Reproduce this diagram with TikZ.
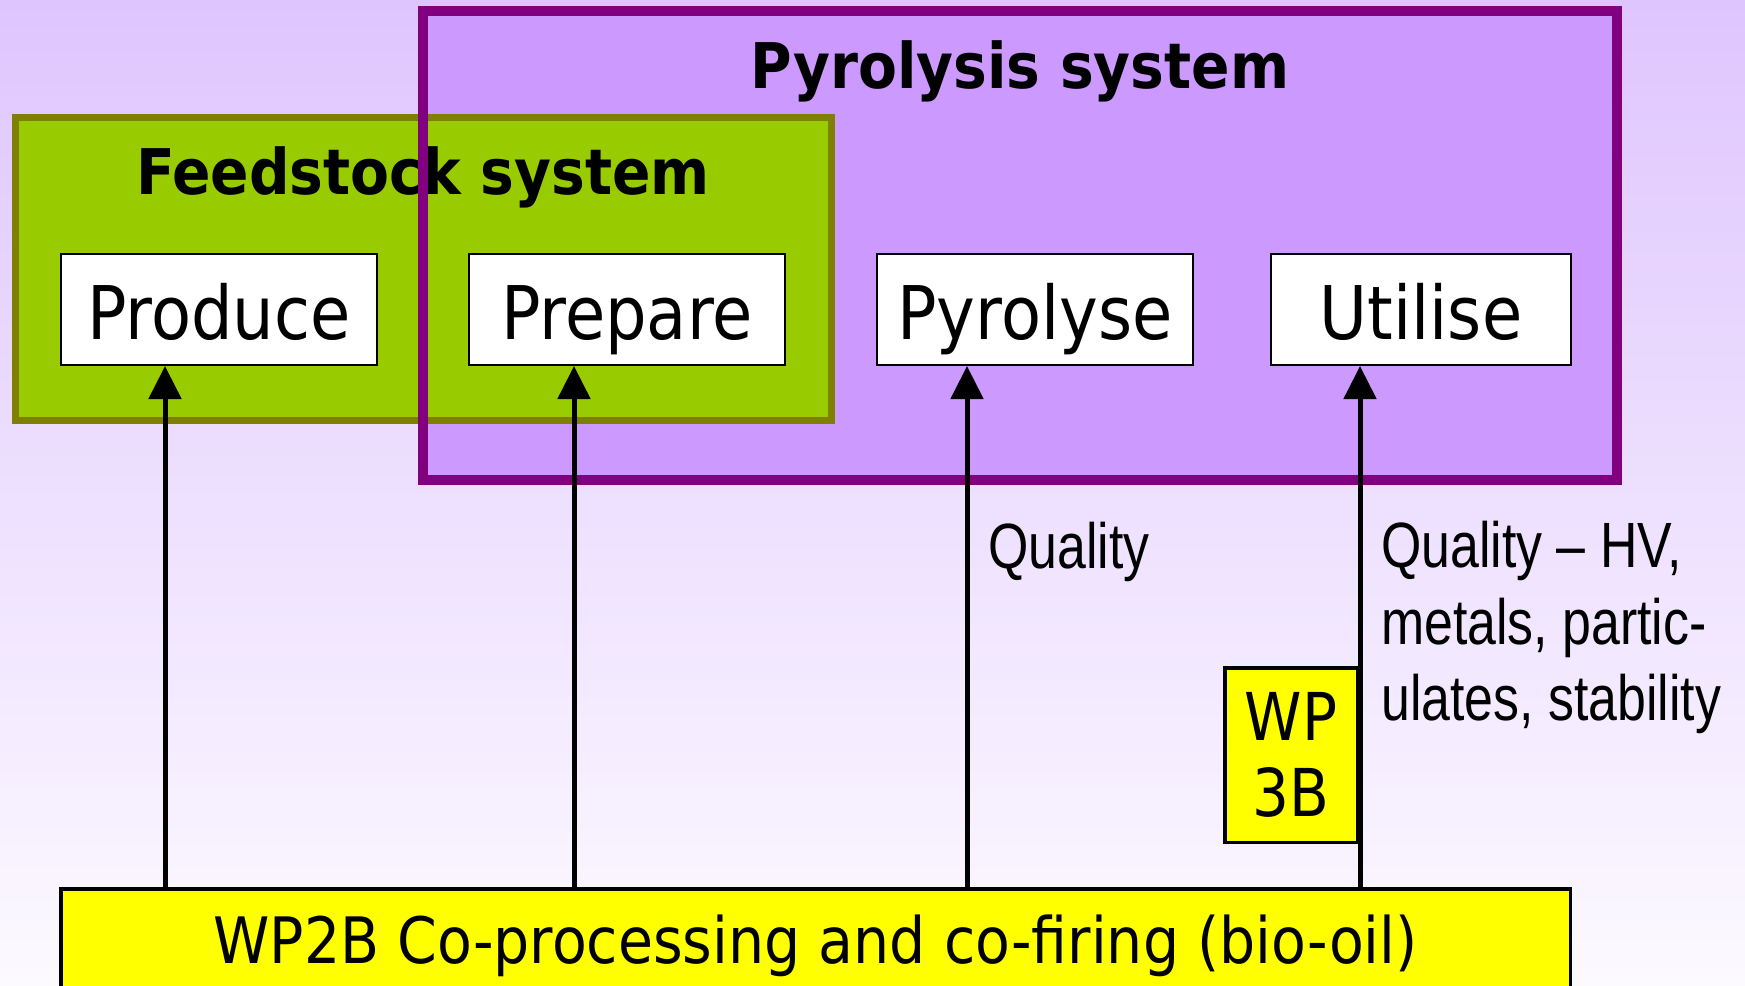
\documentclass[tikz,border=0pt]{standalone}
\usepackage{fontspec}
\setmainfont{DejaVu Sans}
\newfontfamily\boxfont[FakeStretch=0.885]{DejaVu Sans}
\newfontfamily\wpfont[FakeStretch=0.88]{DejaVu Sans}
\newfontfamily\basefont[FakeStretch=0.89]{DejaVu Sans}
\newfontfamily\headfont[FakeStretch=0.90]{DejaVu Sans}
\newfontfamily\notefont[FakeStretch=0.81]{Liberation Sans}
\usetikzlibrary{arrows.meta}

\definecolor{bgtop}{RGB}{223,197,254}
\definecolor{bgbot}{RGB}{252,250,255}
\definecolor{pyrofill}{RGB}{204,153,255}
\definecolor{pyroline}{RGB}{128,0,128}
\definecolor{feedfill}{RGB}{153,204,0}
\definecolor{feedline}{RGB}{128,128,0}
\definecolor{wpyellow}{RGB}{255,255,0}

\tikzset{
  stagebox/.style={draw=black, line width=2pt, fill=white, inner sep=0pt,
    minimum width=316pt, minimum height=111pt, text height=59pt, text depth=0pt,
    font=\boxfont\fontsize{74}{89}\selectfont},
  wpbox/.style={draw=black, line width=3.5pt, fill=wpyellow, inner sep=0pt},
  headtext/.style={anchor=base, inner sep=0pt, font=\headfont\bfseries\fontsize{63}{76}\selectfont},
  notetext/.style={inner sep=0pt, font=\notefont\fontsize{64}{76.5}\selectfont},
  feedarrow/.style={line width=5pt, -{Triangle[width=32pt,length=33pt]}},
}

\begin{document}
\begin{tikzpicture}[x=1pt, y=-1pt]
  \useasboundingbox (0,0) rectangle (1745,985);
  \clip (0,0) rectangle (1745,985);

  % background
  \shade[top color=bgtop, bottom color=bgbot] (0,0) rectangle (1745,985);

  % pyrolysis system: fill first, outline drawn after the feedstock box
  \node[fill=pyrofill, inner sep=0pt, minimum width=1194pt, minimum height=469pt]
    (pyrosys) at (1020,245.5) {};

  % feedstock system
  \node[fill=feedfill, draw=feedline, line width=7pt, inner sep=0pt,
        minimum width=816pt, minimum height=302.5pt]
    (feedsys) at (423,268.75) {};
  \node[headtext] (feedtitle) at (423,194) {Feedstock system};

  \draw[pyroline, line width=10pt] (pyrosys.north west) rectangle (pyrosys.south east);
  \node[headtext] (pyrotitle) at (1020,88) {Pyrolysis system};

  % process stages
  \node[stagebox] (produce)  at (219,309.5)  {Produce};
  \node[stagebox] (prepare)  at (627,309.5)  {Prepare};
  \node[stagebox] (pyrolyse) at (1035,309.5) {Pyrolyse};
  \node[stagebox, minimum width=300pt] (utilise) at (1421,309.5) {Utilise};

  % work packages
  \node[wpbox, minimum width=1509.5pt, minimum height=120pt, text height=29pt, text depth=0pt,
        font=\basefont\fontsize{64}{77}\selectfont]
    (wp2b) at (815.5,949) {WP2B Co-processing and co-firing (bio-oil)};
  \node[wpbox, minimum width=132.5pt, minimum height=174.5pt, align=center,
        font=\wpfont\fontsize{66}{76}\selectfont]
    (wp3b) at (1291,755) {WP\\3B};

  % links from WP2B up to the stages
  \coordinate (xa) at (165,0);
  \coordinate (xb) at (574,0);
  \coordinate (xc) at (967,0);
  \coordinate (xd) at (1360,0);
  \draw[feedarrow] (xa |- wp2b.north) -- (xa |- produce.south);
  \draw[feedarrow] (xb |- wp2b.north) -- (xb |- prepare.south);
  \draw[feedarrow] (xc |- wp2b.north) -- (xc |- pyrolyse.south);
  \draw[feedarrow] (xd |- wp2b.north) -- (xd |- utilise.south);

  % link labels
  \node[notetext, anchor=base west] (qpyro) at (988,568) {Quality};
  \node[notetext, anchor=north west, align=left] (qutil) at (1381,521)
    {Quality – HV,\\metals, partic-\\ulates, stability};
\end{tikzpicture}
\end{document}
